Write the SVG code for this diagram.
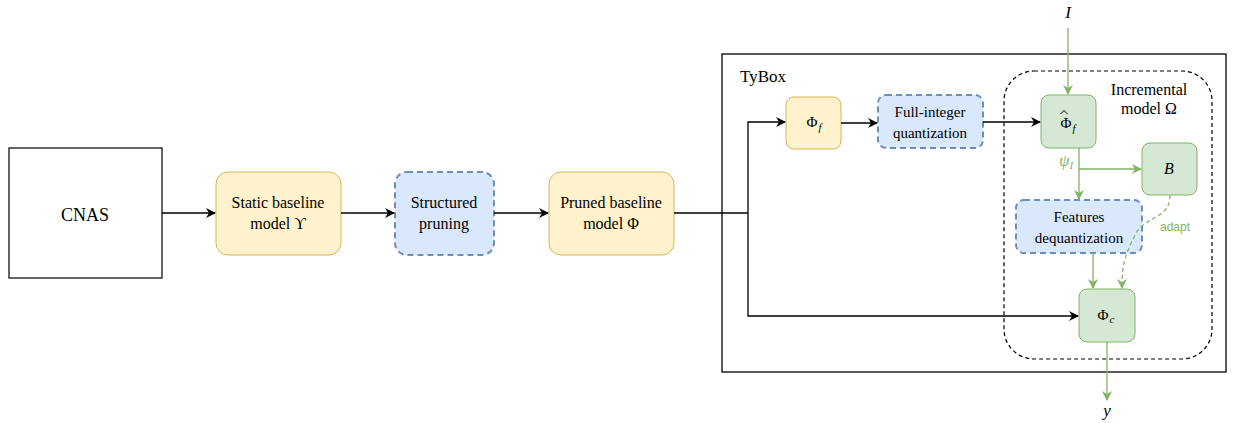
<svg xmlns="http://www.w3.org/2000/svg" width="1233" height="423" viewBox="0 0 1233 423">
<style>
.t{font-family:"Liberation Serif","Times New Roman",serif;font-size:16px;fill:#000;text-anchor:middle}
.yel{fill:#fff2cc;stroke:#d6b656;stroke-width:1}
.blu{fill:#dae8fc;stroke:#6c8ebf;stroke-width:2;stroke-dasharray:6 4}
.grn{fill:#d5e8d4;stroke:#82b366;stroke-width:1}
.bk{fill:none;stroke:#000;stroke-width:1.3}
.gl{fill:none;stroke:#82b366;stroke-width:1.3}
</style>
<defs>
<marker id="ab" markerWidth="10" markerHeight="10" refX="9" refY="5" orient="auto" markerUnits="userSpaceOnUse">
<path d="M0,0 L10,5 L0,10 L3,5 Z" fill="#000"/>
</marker>
<marker id="ag" markerWidth="10" markerHeight="10" refX="9" refY="5" orient="auto" markerUnits="userSpaceOnUse">
<path d="M0,0 L10,5 L0,10 L3,5 Z" fill="#82b366"/>
</marker>
</defs>
<rect width="1233" height="423" fill="#fff"/>
<g id="tybox">
<rect x="722" y="54" width="504" height="318" fill="none" stroke="#000" stroke-width="1.3"/>
<text x="740" y="82" class="t" style="text-anchor:start;font-size:17px">TyBox</text>
</g>
<g id="incremental">
<rect x="1004" y="71" width="208" height="288" rx="30" ry="30" fill="none" stroke="#000" stroke-width="1.2" stroke-dasharray="4 3"/>
<text x="1149" y="95" class="t">Incremental</text>
<text x="1149" y="114" class="t">model Ω</text>
</g>
<g id="cnas">
<rect x="9" y="148" width="153" height="130" fill="#fff" stroke="#000" stroke-width="1.2"/>
<text x="85" y="221" class="t" style="font-size:18px">CNAS</text>
</g>
<g id="static">
<rect x="216" y="172" width="125" height="83" rx="12" class="yel"/>
<text x="278" y="208" class="t">Static baseline</text>
<text x="278" y="229" class="t">model ϒ</text>
</g>
<g id="pruning">
<rect x="395" y="172" width="99" height="83" rx="12" class="blu"/>
<text x="444" y="208" class="t">Structured</text>
<text x="444" y="229" class="t">pruning</text>
</g>
<g id="pruned">
<rect x="549" y="172" width="125" height="83" rx="12" class="yel"/>
<text x="611" y="208" class="t">Pruned baseline</text>
<text x="611" y="229" class="t">model Φ</text>
</g>
<g id="phif">
<rect x="786" y="97" width="55" height="52" rx="8" class="yel"/>
<text x="814" y="127" class="t" style="font-size:15px">Φ<tspan font-style="italic" font-size="11" dx="1" dy="4">f</tspan></text>
</g>
<g id="fiq">
<rect x="878" y="95" width="105" height="53" rx="8" class="blu"/>
<text x="930" y="117" class="t" style="font-size:15px">Full-integer</text>
<text x="930" y="138" class="t" style="font-size:15px">quantization</text>
</g>
<g id="phihat">
<rect x="1041" y="95" width="55" height="53" rx="8" class="grn"/>
<path d="M1060.5,114 L1064,110.5 L1067.5,114" fill="none" stroke="#000" stroke-width="1"/>
<text x="1068" y="128" class="t" style="font-size:15px">Φ<tspan font-style="italic" font-size="11" dx="1" dy="4">f</tspan></text>
</g>
<g id="b">
<rect x="1142" y="143" width="55" height="52" rx="8" class="grn"/>
<text x="1169" y="174" class="t" style="font-style:italic;font-size:16px">B</text>
</g>
<g id="deq">
<rect x="1016" y="200" width="126" height="53" rx="8" class="blu"/>
<text x="1079" y="222" class="t" style="font-size:15px">Features</text>
<text x="1079" y="243" class="t" style="font-size:15px">dequantization</text>
</g>
<g id="phic">
<rect x="1079" y="289" width="56" height="53" rx="8" class="grn"/>
<text x="1106" y="320" class="t" style="font-size:15px">Φ<tspan font-style="italic" font-size="11" dx="1" dy="3">c</tspan></text>
</g>
<g id="connectors">
<path d="M162,213 L215,213" class="bk" marker-end="url(#ab)"/>
<path d="M341,213 L394,213" class="bk" marker-end="url(#ab)"/>
<path d="M494,213 L548,213" class="bk" marker-end="url(#ab)"/>
<path d="M674,213 L748,213" class="bk"/>
<path d="M748,213 L748,122 L785,122" class="bk" marker-end="url(#ab)"/>
<path d="M748,213 L748,316 L1078,316" class="bk" marker-end="url(#ab)"/>
<path d="M841,123 L877,123" class="bk" marker-end="url(#ab)"/>
<path d="M983,122 L1040,122" class="bk" marker-end="url(#ab)"/>
<path d="M1068,28 L1068,94" class="gl" marker-end="url(#ag)"/>
<path d="M1079,148 L1079,199" class="gl" marker-end="url(#ag)"/>
<path d="M1079,169 L1141,169" class="gl" marker-end="url(#ag)"/>
<path d="M1093,253 L1093,288" class="gl" marker-end="url(#ag)"/>
<path d="M1170,195 C1170,220 1145,215 1135,235 C1125,255 1122,265 1122,288" class="gl" stroke-dasharray="4 3" marker-end="url(#ag)"/>
<path d="M1107,342 L1107,400" class="gl" marker-end="url(#ag)"/>
<text x="1068" y="18" class="t" style="font-style:italic;font-size:17px">I</text>
<text x="1066" y="166" class="t" style="fill:#82b366;font-style:italic;font-size:17px">ψ<tspan font-size="11" dy="3">I</tspan></text>
<text x="1175" y="231" style="font-family:'Liberation Sans',Arial,sans-serif;font-size:12px;fill:#82b366;text-anchor:middle">adapt</text>
<text x="1107" y="416" class="t" style="font-style:italic;font-size:17px">y</text>
</g>
</svg>
